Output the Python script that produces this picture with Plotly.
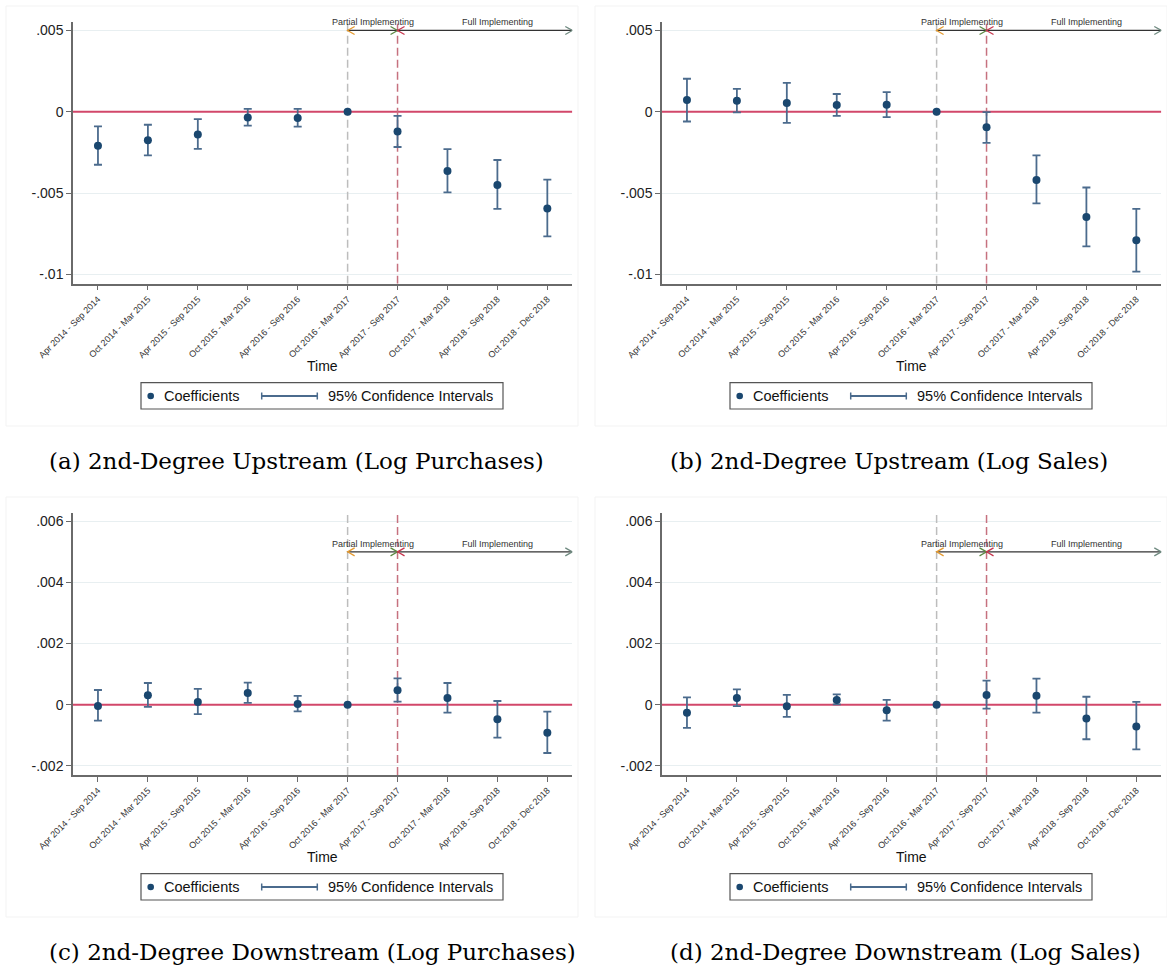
import plotly.graph_objects as go

# ---------------------------------------------------------------- data
periods = [
    "Apr 2014 - Sep 2014", "Oct 2014 - Mar 2015", "Apr 2015 - Sep 2015",
    "Oct 2015 - Mar 2016", "Apr 2016 - Sep 2016", "Oct 2016 - Mar 2017",
    "Apr 2017 - Sep 2017", "Oct 2017 - Mar 2018", "Apr 2018 - Sep 2018",
    "Oct 2018 - Dec 2018",
]

# (a) 2nd-degree upstream, log purchases
up_purch_coef = [-0.00209, -0.00176, -0.00140, -0.00035, -0.00039, 0.0, -0.00121, -0.00365, -0.00451, -0.00595]
up_purch_lo = [-0.00326, -0.00269, -0.00228, -0.00086, -0.00092, None, -0.00217, -0.00496, -0.00598, -0.00767]
up_purch_hi = [-0.00090, -0.00080, -0.00045, 0.00018, 0.00018, None, -0.00025, -0.00230, -0.00297, -0.00418]

# (b) 2nd-degree upstream, log sales
up_sales_coef = [0.00072, 0.00068, 0.00053, 0.00041, 0.00043, 0.0, -0.00096, -0.00420, -0.00648, -0.00791]
up_sales_lo = [-0.00060, -0.00004, -0.00069, -0.00025, -0.00033, None, -0.00191, -0.00564, -0.00828, -0.00984]
up_sales_hi = [0.00203, 0.00141, 0.00178, 0.00109, 0.00121, None, -0.00002, -0.00269, -0.00466, -0.00598]

# (c) 2nd-degree downstream, log purchases
down_purch_coef = [-0.00004, 0.00031, 0.00009, 0.00038, 0.00002, 0.0, 0.00047, 0.00022, -0.00048, -0.00092]
down_purch_lo = [-0.00052, -0.00007, -0.00031, 0.00006, -0.00022, None, 0.00010, -0.00026, -0.00108, -0.00158]
down_purch_hi = [0.00048, 0.00071, 0.00052, 0.00072, 0.00029, None, 0.00086, 0.00071, 0.00012, -0.00023]

# (d) 2nd-degree downstream, log sales
down_sales_coef = [-0.00026, 0.00022, -0.00005, 0.00015, -0.00018, 0.0, 0.00032, 0.00029, -0.00045, -0.00071]
down_sales_lo = [-0.00076, -0.00005, -0.00040, 0.00001, -0.00052, None, -0.00013, -0.00026, -0.00113, -0.00146]
down_sales_hi = [0.00024, 0.00050, 0.00032, 0.00034, 0.00016, None, 0.00079, 0.00085, 0.00026, 0.00009]

upstream_ticks = [0.005, 0.0, -0.005, -0.01]
upstream_ticktext = [".005", "0", "-.005", "-.01"]
downstream_ticks = [0.006, 0.004, 0.002, 0.0, -0.002]
downstream_ticktext = [".006", ".004", ".002", "0", "-.002"]

captions = [
    "(a) 2nd-Degree Upstream (Log Purchases)",
    "(b) 2nd-Degree Upstream (Log Sales)",
    "(c) 2nd-Degree Downstream (Log Purchases)",
    "(d) 2nd-Degree Downstream (Log Sales)",
]

partial_start = 5      # Oct 2016 - Mar 2017
full_start = 6         # Apr 2017 - Sep 2017
arrow_level = 0.005

# ---------------------------------------------------------------- style
W, H = 1167, 969
SANS = "Liberation Sans, Arial, sans-serif"
SERIF = "DejaVu Serif, serif"
NAVY = "#1a476f"
CI_COLOR = "#4b6b8d"
ZERO_COLOR = "#d2476a"
AXIS_COLOR = "#6a6a6a"
GRID_COLOR = "#e8eff1"
TEXT_COLOR = "#222222"


def px(x):
    return x / W


def py(y):
    return 1 - y / H


panels = [
    dict(coef=up_purch_coef, lo=up_purch_lo, hi=up_purch_hi, dx=0, dy=0,
         yr=[-0.010578, 0.00552], tv=upstream_ticks, tt=upstream_ticktext),
    dict(coef=up_sales_coef, lo=up_sales_lo, hi=up_sales_hi, dx=589, dy=0,
         yr=[-0.010578, 0.00552], tv=upstream_ticks, tt=upstream_ticktext),
    dict(coef=down_purch_coef, lo=down_purch_lo, hi=down_purch_hi, dx=0, dy=491,
         yr=[-0.0023, 0.00628], tv=downstream_ticks, tt=downstream_ticktext),
    dict(coef=down_sales_coef, lo=down_sales_lo, hi=down_sales_hi, dx=589, dy=491,
         yr=[-0.0023, 0.00628], tv=downstream_ticks, tt=downstream_ticktext),
]

fig = go.Figure()
shapes = []
annotations = []
layout_axes = {}

for k, p in enumerate(panels):
    n = "" if k == 0 else str(k + 1)
    xa, ya = "x" + n, "y" + n
    dx, dy = p["dx"], p["dy"]
    left, right = 73 + dx, 572.3 + dx
    top = 22 if dy == 0 else 512.7
    bottom = 283.7 if dy == 0 else 775

    # faint outer frame of the panel
    shapes.append(dict(type="rect", xref="paper", yref="paper",
                       x0=px(6 + dx), x1=px(578 + dx), y0=py(426 + dy), y1=py(6 + dy),
                       line=dict(color="#f3f3f3", width=1), layer="below"))

    layout_axes["xaxis" + n] = dict(
        domain=[px(left), px(right)], anchor=ya, range=[-0.5, 9.5], automargin=False,
        tickmode="array", tickvals=list(range(len(periods))), ticktext=periods,
        tickangle=-45, tickfont=dict(family=SANS, size=9, color="#333333"),
        ticks="outside", ticklen=5, tickwidth=1.2, tickcolor=AXIS_COLOR,
        showline=True, linecolor=AXIS_COLOR, linewidth=1.5,
        showgrid=False, zeroline=False, fixedrange=True,
    )
    layout_axes["yaxis" + n] = dict(
        domain=[py(bottom), py(top)], anchor=xa, range=p["yr"], automargin=False,
        tickmode="array", tickvals=p["tv"], ticktext=p["tt"],
        tickfont=dict(family=SANS, size=14, color=TEXT_COLOR),
        ticks="outside", ticklen=5, tickwidth=1.2, tickcolor=AXIS_COLOR,
        showline=True, linecolor=AXIS_COLOR, linewidth=1.5,
        showgrid=True, gridcolor=GRID_COLOR, gridwidth=1,
        zeroline=False, fixedrange=True,
    )

    # confidence intervals (omitted reference period has none)
    idx = [i for i in range(len(periods)) if p["lo"][i] is not None]
    fig.add_trace(go.Scatter(
        x=idx, y=[p["coef"][i] for i in idx], xaxis=xa, yaxis=ya,
        mode="markers", marker=dict(size=2, color="rgba(0,0,0,0)"),
        error_y=dict(type="data", symmetric=False,
                     array=[p["hi"][i] - p["coef"][i] for i in idx],
                     arrayminus=[p["coef"][i] - p["lo"][i] for i in idx],
                     color=CI_COLOR, thickness=1.8, width=4),
        hoverinfo="skip", showlegend=False,
    ))
    # point estimates
    fig.add_trace(go.Scatter(
        x=list(range(len(periods))), y=p["coef"], xaxis=xa, yaxis=ya,
        mode="markers", marker=dict(size=8, color=NAVY),
        showlegend=False,
    ))

    # zero reference line
    shapes.append(dict(type="line", xref=xa, yref=ya, x0=-0.5, x1=9.5, y0=0, y1=0,
                       line=dict(color=ZERO_COLOR, width=2), layer="between"))
    # policy timing lines
    shapes.append(dict(type="line", xref=xa, yref=ya, x0=partial_start, x1=partial_start,
                       y0=p["yr"][0], y1=p["yr"][1],
                       line=dict(color="#bdbdbd", width=1.5, dash="8px,4px"), layer="between"))
    shapes.append(dict(type="line", xref=xa, yref=ya, x0=full_start, x1=full_start,
                       y0=p["yr"][0], y1=p["yr"][1],
                       line=dict(color="#c6717f", width=1.5, dash="8px,4px"), layer="between"))

    # implementation-phase arrows
    shapes.append(dict(type="line", xref=xa, yref=ya, x0=partial_start, x1=9.5,
                       y0=arrow_level, y1=arrow_level, line=dict(color="#333333", width=1.2)))
    heads = [
        (partial_start, "M 7,4 L 0,0 L 7,-4", "#e59a2f"),
        (full_start, "M -7,4 L 0,0 L -7,-4", "#5d8a44"),
        (full_start, "M 7,4 L 0,0 L 7,-4", "#c8374f"),
        (9.5, "M -7,4 L 0,0 L -7,-4", "#6f8a80"),
    ]
    for hx, path, col in heads:
        shapes.append(dict(type="path", xref=xa, yref=ya, xsizemode="pixel", ysizemode="pixel",
                           xanchor=hx, yanchor=arrow_level, path=path,
                           line=dict(color=col, width=1.3)))
    annotations.append(dict(x=(partial_start + full_start) / 2, y=arrow_level, xref=xa, yref=ya,
                            yshift=8, text="Partial Implementing", showarrow=False,
                            font=dict(family=SANS, size=9, color="#333333")))
    annotations.append(dict(x=8, y=arrow_level, xref=xa, yref=ya,
                            yshift=8, text="Full Implementing", showarrow=False,
                            font=dict(family=SANS, size=9, color="#333333")))

    # axis title
    annotations.append(dict(x=px(322.7 + dx), y=py(366 + dy), xref="paper", yref="paper",
                            text="Time", showarrow=False, xanchor="center", yanchor="middle",
                            font=dict(family=SANS, size=14, color="#111111")))

    # legend box
    ly = 396 + dy
    shapes.append(dict(type="rect", xref="paper", yref="paper",
                       x0=px(141 + dx), x1=px(503 + dx), y0=py(409 + dy), y1=py(382.7 + dy),
                       line=dict(color="#555555", width=1.2), fillcolor="white"))
    shapes.append(dict(type="circle", xref="paper", yref="paper",
                       x0=px(147.4 + dx), x1=px(154 + dx), y0=py(ly + 3.3), y1=py(ly - 3.3),
                       line=dict(width=0), fillcolor=NAVY))
    shapes.append(dict(type="line", xref="paper", yref="paper",
                       x0=px(261.7 + dx), x1=px(317.3 + dx), y0=py(ly), y1=py(ly),
                       line=dict(color=CI_COLOR, width=1.8)))
    for cx in (261.7, 317.3):
        shapes.append(dict(type="line", xref="paper", yref="paper",
                           x0=px(cx + dx), x1=px(cx + dx), y0=py(ly - 3.5), y1=py(ly + 3.5),
                           line=dict(color=CI_COLOR, width=1.5)))
    annotations.append(dict(x=px(162 + dx), y=py(ly), xref="paper", yref="paper",
                            text="Coefficients", showarrow=False, xanchor="left", yanchor="middle",
                            font=dict(family=SANS, size=14.5, color="#111111")))
    annotations.append(dict(x=px(326 + dx), y=py(ly), xref="paper", yref="paper",
                            text="95% Confidence Intervals", showarrow=False,
                            xanchor="left", yanchor="middle",
                            font=dict(family=SANS, size=14.5, color="#111111")))

    # sub-figure caption
    annotations.append(dict(x=px(47 + (621 if dx else 0)), y=py(461 + dy), xref="paper", yref="paper",
                            text=captions[k], showarrow=False, xanchor="left", yanchor="middle",
                            font=dict(family=SERIF, size=23, color="#000000")))

fig.update_layout(
    width=W, height=H, margin=dict(l=0, r=0, t=0, b=0),
    paper_bgcolor="white", plot_bgcolor="white",
    showlegend=False, shapes=shapes, annotations=annotations,
    **layout_axes,
)

fig.write_html("out.html")
